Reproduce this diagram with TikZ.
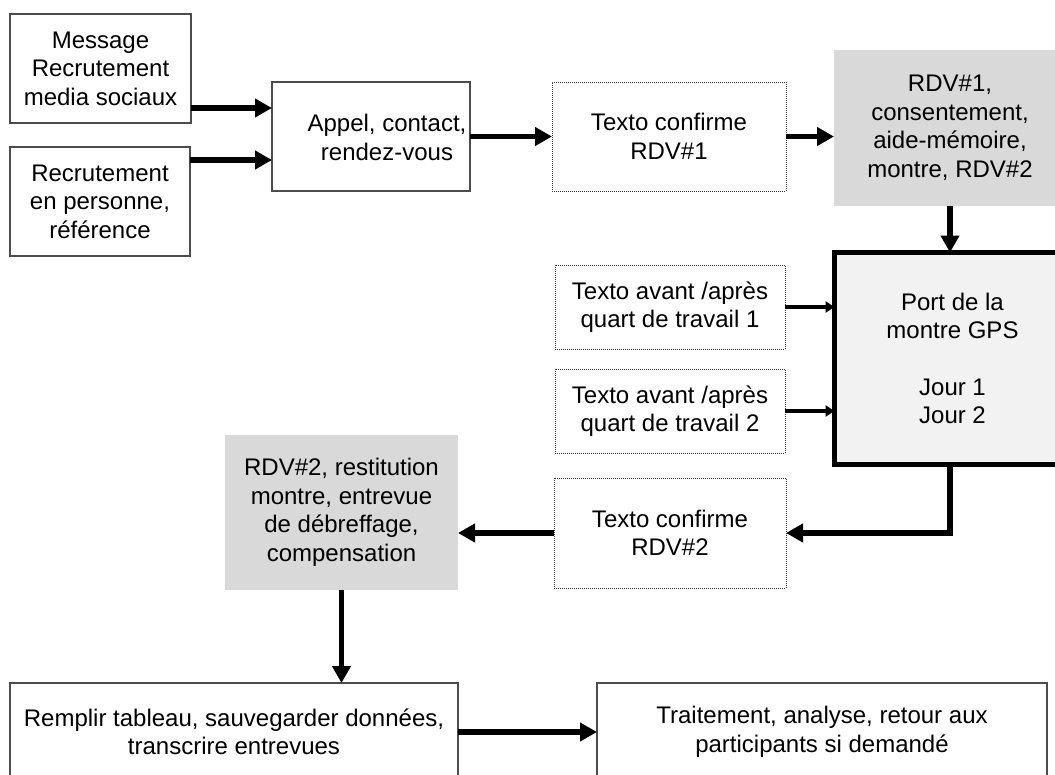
\documentclass[tikz,border=0pt]{standalone}
\usepackage{fontspec}
\setmainfont{Liberation Sans}
\usetikzlibrary{arrows.meta}
\definecolor{grayA}{HTML}{D9D9D9}
\definecolor{grayB}{HTML}{F2F2F2}
\begin{document}
\begin{tikzpicture}[x=1pt,y=-1pt,
  every node/.style={font=\fontsize{24}{28.5}\selectfont, align=center},
  base/.style={anchor=north west, inner sep=0pt, outer sep=0pt},
  plainbox/.style={base, draw=black!70, line width=1.1pt},
  dotbox/.style={base, draw=black!80, line width=1pt, dash pattern=on 1pt off 1pt},
  shadebox/.style={base, fill=grayA},
  bigbox/.style={base, draw=black, line width=4.5pt, fill=grayB},
  thickarrow/.style={line width=5.5pt, -{Triangle[length=17pt,width=18pt]}},
  thinarrow/.style={line width=3.5pt, -{Triangle[length=9pt,width=11pt]}},
]
\useasboundingbox (0,0) rectangle (1055,774);
\clip (0,0) rectangle (1055,774);

% boxes
\node[plainbox, minimum width=181pt, minimum height=109pt] (m1) at (10,14) {Message\\Recrutement\\media sociaux};
\node[plainbox, minimum width=180pt, minimum height=109pt] (m2) at (10,147) {Recrutement\\en personne,\\référence};
\node[plainbox, minimum width=198pt, minimum height=109pt,
      label={[xshift=16pt,yshift=-1pt]center:{Appel, contact,\\rendez-vous}}] (appel) at (272,82) {};
\node[dotbox, minimum width=234pt, minimum height=109pt] (t1) at (552,82) {Texto confirme\\RDV\#1};
\node[shadebox, minimum width=232pt, minimum height=156pt] (g1) at (834,50) {RDV\#1,\\consentement,\\aide-mémoire,\\montre, RDV\#2};
\node[bigbox, minimum width=236pt, minimum height=212pt] (big) at (834.5,252.5) {Port de la\\montre GPS\\[28pt]Jour 1\\Jour 2};
\node[dotbox, minimum width=230pt, minimum height=84pt] (ta1) at (555,265) {Texto avant /après\\quart de travail 1};
\node[dotbox, minimum width=230pt, minimum height=84pt] (ta2) at (555,369) {Texto avant /après\\quart de travail 2};
\node[dotbox, minimum width=232pt, minimum height=110pt] (t2) at (554,478) {Texto confirme\\RDV\#2};
\node[shadebox, minimum width=233pt, minimum height=155pt] (g2) at (225,435) {RDV\#2, restitution\\montre, entrevue\\de débreffage,\\compensation};
\node[plainbox, minimum width=448pt, minimum height=98pt] (b1) at (10,683) {Remplir tableau, sauvegarder données,\\transcrire entrevues};
\node[plainbox, minimum width=450pt, minimum height=98pt] (b2) at (597,683) {Traitement, analyse, retour aux\\participants si demandé};

% helper levels
\coordinate (ya) at (0,108);
\coordinate (yb) at (0,160);

% connectors
\draw[thickarrow] (m1.east |- ya) -- (appel.west |- ya);
\draw[thickarrow] (m2.east |- yb) -- (appel.west |- yb);
\draw[thickarrow] (appel.east) -- (t1.west);
\draw[thickarrow] (t1.east) -- (t1.east -| g1.west);
\draw[thickarrow] (g1.south) -- (g1.south |- big.north);
\draw[thinarrow] (ta1.east) -- (ta1.east -| big.west);
\draw[thinarrow] (ta2.east) -- (ta2.east -| big.west);
\draw[thickarrow] (g1.south |- big.south) |- (t2.east);
\draw[thickarrow] (t2.west) -- (t2.west -| g2.east);
\draw[thickarrow] (g2.south) -- (g2.south |- b1.north);
\draw[thickarrow] (b1.east) -- (b2.west);
\end{tikzpicture}
\end{document}
